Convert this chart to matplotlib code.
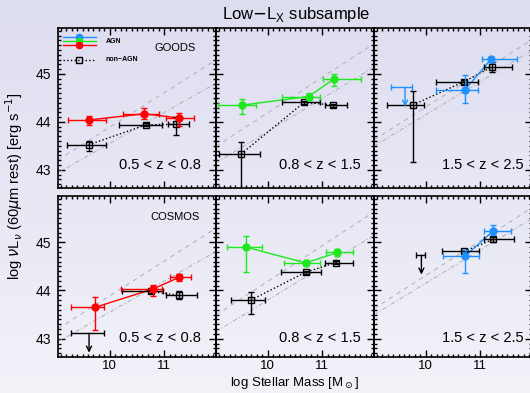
"""
    60um luminosity vs stellar mass, low-Lx AGN subsample
    AGN (coloured by redshift bin) against the mass-matched non-AGN
"""

import numpy as np
import matplotlib
matplotlib.use("Agg")
import matplotlib.pyplot as plt
from matplotlib.ticker import MultipleLocator, FixedLocator

matplotlib.rcParams['font.family'] = ["Liberation Sans", "DejaVu Sans"]
matplotlib.rcParams['mathtext.fontset'] = "dejavusans"

# %% panel order: GOODS z1, z2, z3, then COSMOS z1, z2, z3
fieldNames = ["GOODS", "", "", "COSMOS", "", ""]
zLabels = ["0.5 < z < 0.8", "0.8 < z < 1.5", "1.5 < z < 2.5"]
agnColours = ["red", "#1ee81e", "#1e90ff"]

# AGN detections
agnMass = [[9.62, 10.63, 11.28], [9.53, 10.75, 11.22], [10.72, 11.20],
           [9.73, 10.79, 11.27], [9.60, 10.70, 11.28], [10.72, 11.23]]
agnMassLo = [[9.23, 10.25, 11.04], [9.09, 10.27, 11.02], [10.19, 11.04],
             [9.28, 10.20, 11.11], [9.26, 10.29, 11.06], [10.32, 11.07]]
agnMassHi = [[9.93, 10.91, 11.55], [9.78, 10.96, 11.71], [10.95, 11.67],
             [9.90, 10.96, 11.49], [9.89, 10.96, 11.57], [10.98, 11.56]]
agnLum = [[44.04, 44.17, 44.08], [44.35, 44.53, 44.90], [44.67, 45.31],
          [43.65, 44.03, 44.27], [44.90, 44.57, 44.79], [44.71, 45.23]]
agnLumUp = [[0.08, 0.12, 0.11], [0.13, 0.07, 0.11], [0.31, 0.05],
            [0.21, 0.09, 0.07], [0.22, 0.07, 0.07], [0.14, 0.12]]
agnLumDn = [[0.10, 0.11, 0.16], [0.18, 0.07, 0.15], [0.28, 0.05],
            [0.47, 0.14, 0.07], [0.52, 0.07, 0.07], [0.35, 0.07]]

# AGN upper limits (None where the bin has none)
agnLimMass = [None, None, 9.62, None, None, None]
agnLimLo = [None, None, 9.36, None, None, None]
agnLimHi = [None, None, 9.74, None, None, None]
agnLimLum = [None, None, 44.72, None, None, None]

# non-AGN control sample
ctlMass = [[9.61, 10.67, 11.22], [9.51, 10.67, 11.20], [9.76, 10.70, 11.22],
           [10.75, 11.27], [9.69, 10.70, 11.25], [10.70, 11.24]]
ctlMassLo = [[9.21, 10.17, 11.06], [9.11, 10.26, 11.05], [9.29, 10.19, 11.06],
             [10.23, 11.04], [9.32, 10.24, 11.05], [10.29, 11.07]]
ctlMassHi = [[9.93, 10.96, 11.46], [9.86, 10.96, 11.45], [9.96, 10.95, 11.58],
             [10.98, 11.60], [9.95, 10.97, 11.56], [10.98, 11.62]]
ctlLum = [[43.52, 43.94, 43.95], [43.33, 44.41, 44.35], [44.35, 44.84, 45.15],
          [43.98, 43.90], [43.80, 44.38, 44.58], [44.81, 45.06]]
ctlLumUp = [[0.09, 0.03, 0.16], [0.26, 0.03, 0.03], [0.30, 0.04, 0.09],
            [0.03, 0.08], [0.17, 0.03, 0.03], [0.04, 0.05]]
ctlLumDn = [[0.12, 0.03, 0.22], [1.00, 0.03, 0.03], [1.18, 0.04, 0.10],
            [0.03, 0.08], [0.29, 0.03, 0.03], [0.04, 0.05]]

ctlLimMass = [None, None, None, 9.62, None, 9.92]
ctlLimLo = [None, None, None, 9.28, None, 9.82]
ctlLimHi = [None, None, None, 9.90, None, 9.99]
ctlLimLum = [None, None, None, 43.11, None, 44.73]

# reference relations per z bin: slope and value at logM = 10
relDashSlope = [0.72, 0.74, 0.72]
relDashAt10 = [43.89, 44.19, 44.31]
relDotSlope = [0.645, 0.69, 0.69]
relDotAt10 = [43.55, 43.80, 44.15]

xRange = (9.05, 11.95)
yRange = (42.62, 45.96)
limArrow = 0.4


# %%
def drawBackground(fig):
    bg = fig.add_axes([0, 0, 1, 1], zorder=-10)
    grad = np.linspace(0, 1, 256)[:, None]
    top = np.array([221, 221, 240]) / 255
    bot = np.array([242, 242, 249]) / 255
    img = top[None, None, :] * (1 - grad[:, :, None]) + bot[None, None, :] * grad[:, :, None]
    bg.imshow(img, aspect="auto", extent=[0, 1, 0, 1])
    bg.axis("off")


def drawUpperLimit(ax, x, lo, hi, y, colour):
    ax.errorbar([x], [y], xerr=[[x - lo], [hi - x]], fmt="none",
                ecolor=colour, elinewidth=1, capsize=2.5, capthick=1)
    ax.annotate("", xy=(x, y - limArrow), xytext=(x, y),
                arrowprops=dict(arrowstyle="->", color=colour, lw=1,
                                shrinkA=0, shrinkB=0, mutation_scale=9))


def drawPanel(ax, idx):
    zIdx = idx % 3
    colour = agnColours[zIdx]

    xx = np.array(xRange)
    ax.plot(xx, relDashAt10[zIdx] + relDashSlope[zIdx] * (xx - 10),
            color="#b4b4c0", lw=0.8, ls=(0, (4, 4)))
    ax.plot(xx, relDotAt10[zIdx] + relDotSlope[zIdx] * (xx - 10),
            color="#b4b4c0", lw=0.8, ls=(0, (4, 2, 1, 2)))

    # non-AGN
    m = np.array(ctlMass[idx])
    ax.plot(m, ctlLum[idx], color="black", lw=1, ls=":")
    ax.errorbar(m, ctlLum[idx],
                xerr=[m - np.array(ctlMassLo[idx]), np.array(ctlMassHi[idx]) - m],
                yerr=[ctlLumDn[idx], ctlLumUp[idx]],
                fmt="s", ms=5, mfc="none", mec="black", mew=1,
                ecolor="black", elinewidth=1, capsize=2.5, capthick=1, zorder=3)
    if ctlLimMass[idx] is not None:
        drawUpperLimit(ax, ctlLimMass[idx], ctlLimLo[idx], ctlLimHi[idx],
                       ctlLimLum[idx], "black")

    # AGN
    m = np.array(agnMass[idx])
    ax.plot(m, agnLum[idx], color=colour, lw=1)
    ax.errorbar(m, agnLum[idx],
                xerr=[m - np.array(agnMassLo[idx]), np.array(agnMassHi[idx]) - m],
                yerr=[agnLumDn[idx], agnLumUp[idx]],
                fmt="o", ms=5, color=colour, ecolor=colour,
                elinewidth=1, capsize=2.5, capthick=1, zorder=4)
    if agnLimMass[idx] is not None:
        drawUpperLimit(ax, agnLimMass[idx], agnLimLo[idx], agnLimHi[idx],
                       agnLimLum[idx], colour)

    ax.set_xlim(xRange)
    ax.set_ylim(yRange)
    ax.set_facecolor("none")
    ax.xaxis.set_major_locator(FixedLocator([10, 11]))
    ax.xaxis.set_minor_locator(MultipleLocator(0.1))
    ax.yaxis.set_major_locator(FixedLocator([43, 44, 45]))
    ax.yaxis.set_minor_locator(MultipleLocator(0.1))
    ax.tick_params(which="both", direction="in", top=True, right=True,
                   width=1, labelsize=10)
    ax.tick_params(axis="x", pad=2, labelsize=9.5)
    ax.tick_params(axis="y", pad=5)
    ax.tick_params(which="major", length=5)
    ax.tick_params(which="minor", length=2.5)
    for s in ax.spines.values():
        s.set_linewidth(1.2)

    if idx < 3:
        ax.tick_params(labelbottom=False)
    if zIdx > 0:
        ax.tick_params(labelleft=False)

    zy = 0.144 if idx < 3 else 0.116
    ax.text([0.386, 0.40, 0.428][zIdx], zy, zLabels[zIdx], transform=ax.transAxes,
            fontsize=10.5, ha="left", va="center")
    if fieldNames[idx]:
        ax.text(0.74, 0.872, fieldNames[idx], transform=ax.transAxes,
                fontsize=8, ha="center", va="center")


def drawLegend(ax):
    tr = ax.transAxes
    for yy, c in zip([0.942, 0.918, 0.894], agnColours[::-1]):
        ax.plot([0.034, 0.239], [yy, yy], color=c, lw=1, transform=tr)
        ax.plot([0.135], [yy], "o", ms=4.5, color=c, transform=tr)
    ax.text(0.30, 0.918, "AGN", fontsize=5, fontweight="bold", transform=tr, va="center")
    ax.plot([0.034, 0.239], [0.802, 0.802], color="black", lw=1, ls=":", transform=tr)
    ax.plot([0.135], [0.802], "s", ms=4.5, mfc="none", mec="black", mew=1, transform=tr)
    ax.text(0.30, 0.802, "non\u2212AGN", fontsize=5, fontweight="bold", transform=tr, va="center")


# %%
W, H = 530, 393
fig = plt.figure(figsize=(W / 100, H / 100), dpi=100)
drawBackground(fig)

lefts = [58, 216, 374]
rows = [(28, 188), (196, 357)]
axes = []
for r, (top, bottom) in enumerate(rows):
    for c, left in enumerate(lefts):
        ax = fig.add_axes([left / W, 1 - bottom / H, 158 / W, (bottom - top) / H])
        drawPanel(ax, r * 3 + c)
        axes.append(ax)

drawLegend(axes[0])

fig.text(296.7 / W, 1 - 15 / H, r"Low$-$L$_\mathregular{X}$ subsample",
         fontsize=12, ha="center", va="center")
fig.text(295 / W, 1 - 383 / H, r"log Stellar Mass [M$_\odot$]",
         fontsize=9.5, ha="center", va="center")
fig.text(14 / W, 1 - 186 / H,
         r"log $\nu$L$_\nu$ (60$\mu$m rest) [erg s$^{-1}$]",
         fontsize=10.5, ha="center", va="center", rotation=90)

plt.savefig("out.png", dpi=100)
